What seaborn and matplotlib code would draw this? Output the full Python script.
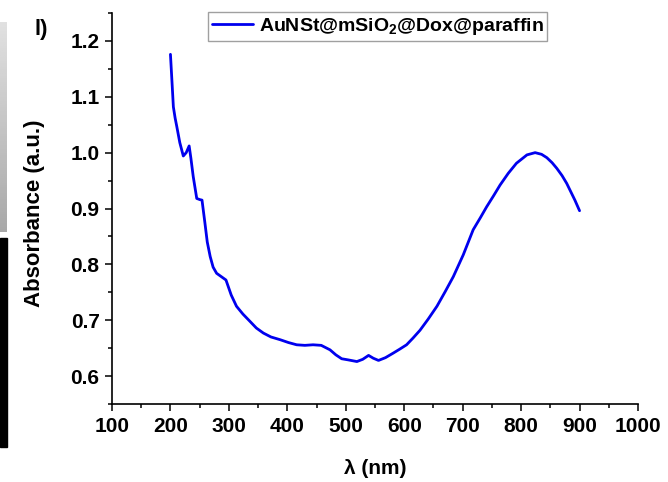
import matplotlib
matplotlib.use("Agg")
import matplotlib.pyplot as plt
import seaborn as sns
import pandas as pd
import numpy as np
from matplotlib.patches import Rectangle
from matplotlib.ticker import MultipleLocator

wavelength = [200, 203, 205, 208, 211, 216, 222, 227, 232, 235, 239, 245, 250, 254,
              259, 263, 268, 273, 279, 287, 295, 304, 313, 324, 336, 347, 359, 372,
              388, 402, 416, 430, 444, 458, 473, 483, 493, 504, 519, 529, 539, 547,
              556, 568, 581, 592, 604, 615, 627, 641, 656, 670, 684, 701, 718, 730,
              741, 753, 764, 778, 792, 810, 824, 835, 844, 853, 861, 870, 878, 885,
              892, 900]
absorbance = [1.176, 1.120, 1.082, 1.062, 1.046, 1.018, 0.994, 1.000, 1.012, 0.990,
              0.957, 0.918, 0.916, 0.915, 0.874, 0.840, 0.814, 0.795, 0.784, 0.778,
              0.772, 0.745, 0.725, 0.711, 0.698, 0.686, 0.677, 0.670, 0.665, 0.660,
              0.656, 0.655, 0.656, 0.655, 0.647, 0.638, 0.631, 0.629, 0.626, 0.630,
              0.637, 0.632, 0.628, 0.633, 0.641, 0.648, 0.656, 0.668, 0.682, 0.702,
              0.725, 0.751, 0.778, 0.817, 0.862, 0.883, 0.903, 0.923, 0.942, 0.963,
              0.981, 0.996, 1.000, 0.997, 0.991, 0.982, 0.972, 0.959, 0.945, 0.930,
              0.915, 0.896]
series_label = r"AuNSt@mSiO$_\mathbf{2}$@Dox@paraffin"
x_ticks = [100, 200, 300, 400, 500, 600, 700, 800, 900, 1000]
y_ticks = [0.6, 0.7, 0.8, 0.9, 1.0, 1.1, 1.2]

sns.set_style("ticks")
plt.rcParams['font.family'] = ['Liberation Sans', 'DejaVu Sans']
plt.rcParams['font.weight'] = 'bold'
plt.rcParams['text.color'] = 'black'
plt.rcParams['axes.labelcolor'] = 'black'
plt.rcParams['xtick.color'] = 'black'
plt.rcParams['ytick.color'] = 'black'
plt.rcParams['mathtext.fontset'] = 'custom'
plt.rcParams['mathtext.rm'] = 'Liberation Sans:bold'
plt.rcParams['mathtext.bf'] = 'Liberation Sans:bold'
plt.rcParams['mathtext.it'] = 'Liberation Sans:bold'

df = pd.DataFrame({"wavelength": wavelength, "absorbance": absorbance})

fig = plt.figure(figsize=(6.68, 4.82), dpi=100)
ax = fig.add_axes([112/668, 1-404/482, (638-112)/668, (404-13)/482])

sns.lineplot(data=df, x="wavelength", y="absorbance", ax=ax, color="#0000ee",
             linewidth=2.0, label=series_label, sort=False,
             solid_joinstyle='round', solid_capstyle='round')

ax.set_xlim(100, 1000)
ax.set_ylim(0.55, 1.25)
ax.set_xticks(x_ticks)
ax.set_yticks(y_ticks)
ax.set_yticklabels([f"{v:.1f}" for v in y_ticks])
ax.xaxis.set_minor_locator(MultipleLocator(50))
ax.yaxis.set_minor_locator(MultipleLocator(0.05))
ax.tick_params(which='major', length=5, width=1.1, labelsize=15, pad=4,
               color='black', labelcolor='black')
ax.tick_params(which='minor', length=3, width=1.1, color='black')
for lbl in ax.get_xticklabels() + ax.get_yticklabels():
    lbl.set_fontweight('bold')

for s in ['top', 'right']:
    ax.spines[s].set_visible(False)
for s in ['left', 'bottom']:
    ax.spines[s].set_linewidth(1.2)
    ax.spines[s].set_color('black')

ax.set_xlabel("λ (nm)", fontsize=15, fontweight='bold', labelpad=17, color='black')
ax.set_ylabel("Absorbance (a.u.)", fontsize=16, fontweight='bold', color='black')
ax.yaxis.set_label_coords((45 - 112) / 526, (404 - 213) / 391)

leg = ax.legend(loc='upper left', bbox_to_anchor=(208/668, 1-12/482),
                bbox_transform=fig.transFigure, borderaxespad=0,
                fontsize=14, handlelength=2.1, handletextpad=0.3,
                frameon=True, fancybox=False, borderpad=0.2)
leg.get_frame().set_edgecolor('#888888')
leg.get_frame().set_linewidth(1.0)
for t in leg.get_texts():
    t.set_fontweight('bold')
    t.set_color('black')

fig.text(35/668, 1-29/482, "l)", fontsize=16, fontweight='bold', va='center',
         ha='left', color='black')

# cropping artifacts at the left edge
grad = np.linspace(0.88, 0.66, 100).reshape(-1, 1)
gax = fig.add_axes([0, 1-232/482, 7/668, (232-22)/482])
gax.imshow(grad, cmap='gray', vmin=0, vmax=1, aspect='auto')
gax.axis('off')
fig.patches.append(Rectangle((0, 1-447/482), 7/668, (447-238)/482,
                             transform=fig.transFigure, color='black', zorder=5))

fig.savefig("out.png", dpi=100)
